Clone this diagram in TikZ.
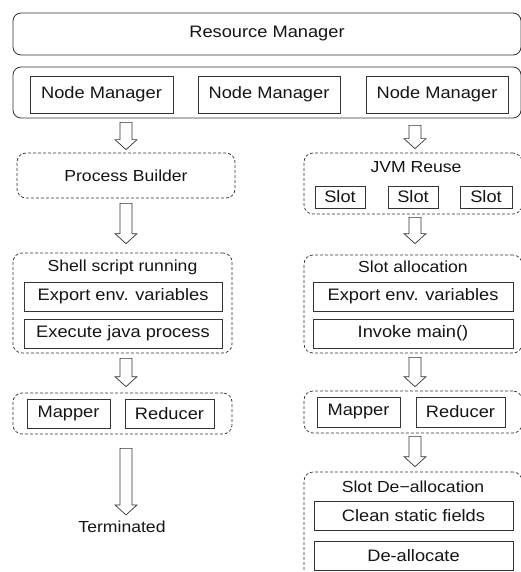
\documentclass[tikz,border=0pt]{standalone}
\usepackage{fontspec}
\setmainfont{Liberation Sans}[FakeStretch=1.1]
\usetikzlibrary{calc}
\definecolor{ink}{HTML}{151515}
\definecolor{edge}{HTML}{333333}
\tikzset{
  x=1pt, y=-1pt,
  every node/.style={text=ink, inner sep=0pt},
  bigtext/.style={font=\fontsize{16.6}{19}\selectfont},
  headtext/.style={font=\fontsize{16}{19}\selectfont},
  frame/.style={draw=edge, line width=0.8pt, rounded corners=8pt, bigtext},
  stage/.style={draw=edge, line width=0.7pt, dash pattern=on 3pt off 2pt, rounded corners=9pt},
  cell/.style={draw=edge, line width=0.8pt, bigtext},
  hollow/.style={draw=edge, line width=0.7pt, fill=white,
    to path={let \p1=(\tikztostart), \p2=(\tikztotarget) in
      ({\x1-6pt},\y1) -- ({\x1-6pt},{\y2+10pt}) -- ({\x1-11pt},{\y2+10pt}) --
      (\x1,\y2) -- ({\x1+11pt},{\y2+10pt}) -- ({\x1+6pt},{\y2+10pt}) --
      ({\x1+6pt},\y1) -- cycle}},
}
\begin{document}
\begin{tikzpicture}
\useasboundingbox (0,0) rectangle (520,572);

% cluster level
\node[frame, minimum width=508pt, minimum height=42pt] (rm) at (267,34) {Resource Manager};
\node[frame, minimum width=508pt, minimum height=51pt] (nmrow) at (267,92.5) {};
\node[cell, minimum width=143pt, minimum height=37pt] (nm1) at (101.5,94.5) {Node Manager};
\node[cell, minimum width=142pt, minimum height=37pt] (nm2) at (269,94.5) {Node Manager};
\node[cell, minimum width=142pt, minimum height=37pt] (nm3) at (437,94.5) {Node Manager};

% left column: a fresh JVM per task
\node[stage, minimum width=218pt, minimum height=45pt, headtext] (pb) at (126,175.5) {Process Builder};

\node[stage, minimum width=219pt, minimum height=100pt] (shell) at (122.5,303) {};
\node[headtext] (shellt) at (122.5,267) {Shell script running};
\node[cell, minimum width=198pt, minimum height=29pt] (expl) at (123,296.5) {Export env. variables};
\node[cell, minimum width=198pt, minimum height=29pt] (exec) at (123,333.5) {Execute java process};

\node[stage, minimum width=219pt, minimum height=41pt] (mrl) at (122.5,413.5) {};
\node[cell, minimum width=83pt, minimum height=29pt] (mapl) at (68.5,413.5) {Mapper};
\node[cell, minimum width=89pt, minimum height=29pt] (redl) at (169.5,413.5) {Reducer};

\node[headtext] (term) at (122,527) {Terminated};

% right column: reused JVM with slots
\node[stage, minimum width=218pt, minimum height=61pt] (jvm) at (413,183.5) {};
\node[headtext] (jvmt) at (416,167) {JVM Reuse};
\node[cell, minimum width=50pt, minimum height=22pt] (s1) at (340,197) {Slot};
\node[cell, minimum width=50pt, minimum height=22pt] (s2) at (413,197) {Slot};
\node[cell, minimum width=52pt, minimum height=22pt] (s3) at (486,197) {Slot};

\node[stage, minimum width=218pt, minimum height=98pt] (sa) at (413,304) {};
\node[headtext] (sat) at (413,267) {Slot allocation};
\node[cell, minimum width=200pt, minimum height=29pt] (expr) at (413,296.5) {Export env. variables};
\node[cell, minimum width=200pt, minimum height=29pt] (inv) at (413,333.5) {Invoke main()};

\node[stage, minimum width=218pt, minimum height=42pt] (mrr) at (413,412) {};
\node[cell, minimum width=83pt, minimum height=30pt] (mapr) at (358.5,412) {Mapper};
\node[cell, minimum width=89pt, minimum height=30pt] (redr) at (460.5,412) {Reducer};

\node[stage, minimum width=218pt, minimum height=108pt] (sd) at (413,526) {};
\node[headtext] (sdt) at (413,487) {Slot De−allocation};
\node[cell, minimum width=199pt, minimum height=29pt] (clean) at (413.5,515.5) {Clean static fields};
\node[cell, minimum width=199pt, minimum height=29pt] (dealloc) at (413.5,555.5) {De-allocate};

% hollow flow arrows, left
\draw[hollow] ([yshift=-4pt]pb.north |- nmrow.south) to ([yshift=3pt]pb.north);
\draw[hollow] ([yshift=-5pt]pb.south) to ([yshift=9pt]pb.south |- shell.north);
\draw[hollow] ([yshift=-5pt]pb.south |- shell.south) to ([yshift=6pt]pb.south |- mrl.north);
\draw[hollow] ([yshift=-14pt]pb.south |- mrl.south) to ([yshift=6pt]pb.south |- term.north);

% hollow flow arrows, right
\draw[hollow] ([xshift=2pt,yshift=-7pt]jvm.north |- nmrow.south) to ([xshift=2pt,yshift=4pt]jvm.north);
\draw[hollow] ([xshift=2pt,yshift=-3pt]jvm.south) to ([xshift=2pt,yshift=11pt]jvm.south |- sa.north);
\draw[hollow] ([xshift=2pt,yshift=-4pt]jvm.south |- sa.south) to ([xshift=2pt,yshift=4pt]jvm.south |- mrr.north);
\draw[hollow] ([xshift=2pt,yshift=-3pt]jvm.south |- mrr.south) to ([xshift=2pt,yshift=5pt]jvm.south |- sd.north);
\end{tikzpicture}
\end{document}
